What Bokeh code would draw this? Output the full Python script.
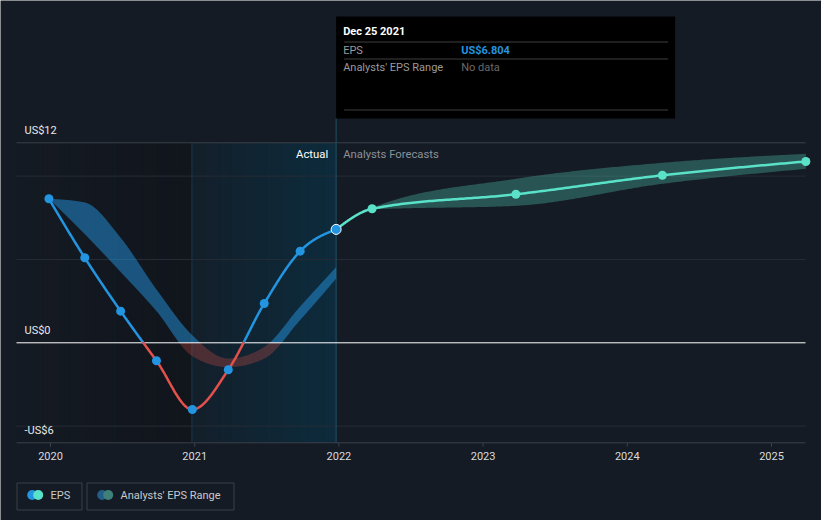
import numpy as np
from datetime import date
from bokeh.plotting import figure
from bokeh.models import Range1d
from bokeh.core.properties import value
from bokeh.embed import file_html
from bokeh.resources import INLINE

# ---------------- data ----------------
actual_dates = ["2019-12-28", "2020-03-28", "2020-06-27", "2020-09-26", "2020-12-26",
                "2021-03-27", "2021-06-26", "2021-09-25", "2021-12-25"]
actual_eps = [8.64, 5.10, 1.90, -1.08, -4.00, -1.62, 2.36, 5.50, 6.804]
past_range_high = [8.64, 8.42, 6.30, 3.20, 0.45, -0.94, -0.25, 2.18, 4.54]
past_range_low = [8.64, 6.52, 4.25, 1.90, -0.80, -1.46, -0.95, 1.37, 3.85]

forecast_dates = ["2021-12-25", "2022-03-26", "2023-03-25", "2024-03-30", "2025-03-29"]
forecast_eps = [6.804, 8.04, 8.91, 10.05, 10.88]
forecast_high = [6.804, 8.10, 9.84, 10.80, 11.34]
forecast_low = [6.804, 8.00, 8.22, 9.54, 10.44]

year_ticks = [2020, 2021, 2022, 2023, 2024, 2025]
y_label_values = [12, 0, -6]
y_label_texts = ["US$12", "US$0", "-US$6"]
y_grid_values = [10, 5, -5]

# ---------------- styling / layout ----------------
BG = "#151b24"
BLUE = "#2394df"
RED = "#e2514c"
TEAL = "#5ae2c9"
FONT = value("Roboto")
PXY = 144.2      # px per year
PXU = 16.667     # px per US$
W, H = 821, 520
X0 = 2020 - 50 / PXY
X1 = X0 + W / PXY
Y1 = 342.3 / PXU
Y0 = Y1 - H / PXU
PLOT_LEFT, PLOT_RIGHT = 16, 805


def px2x(px):
    return X0 + px / PXY


def px2y(py):
    return Y1 - py / PXU


def dyear(s):
    d = date.fromisoformat(s)
    a = date(d.year, 1, 1)
    b = date(d.year + 1, 1, 1)
    return d.year + (d - a).days / (b - a).days


def monotone(xs, ys, n=60):
    xs = np.asarray(xs, float)
    ys = np.asarray(ys, float)
    m = len(xs)
    h = np.diff(xs)
    s = np.diff(ys) / h
    t = np.zeros(m)
    if m == 2:
        t[:] = s[0]
    else:
        for i in range(1, m - 1):
            s0, s1 = s[i - 1], s[i]
            p_ = (s0 * h[i] + s1 * h[i - 1]) / (h[i - 1] + h[i])
            t[i] = (np.sign(s0) + np.sign(s1)) * min(abs(s0), abs(s1), 0.5 * abs(p_))
        t[0] = (3 * s[0] - t[1]) / 2
        t[-1] = (3 * s[-1] - t[-2]) / 2
    X, Y = [], []
    for i in range(m - 1):
        u = np.linspace(0, 1, n, endpoint=(i == m - 2))
        h00 = 2 * u**3 - 3 * u**2 + 1
        h10 = u**3 - 2 * u**2 + u
        h01 = -2 * u**3 + 3 * u**2
        h11 = u**3 - u**2
        X.append(xs[i] + u * h[i])
        Y.append(h00 * ys[i] + h10 * h[i] * t[i] + h01 * ys[i + 1] + h11 * h[i] * t[i + 1])
    return np.concatenate(X), np.concatenate(Y)


def split_sign(X, Y):
    xr, yr = [X[0]], [Y[0]]
    for i in range(1, len(X)):
        y0, y1 = Y[i - 1], Y[i]
        if (y0 < 0 < y1) or (y1 < 0 < y0):
            xr.append(X[i - 1] + (X[i] - X[i - 1]) * (-y0) / (y1 - y0))
            yr.append(0.0)
        xr.append(X[i])
        yr.append(Y[i])
    xr = np.array(xr)
    yr = np.array(yr)
    return xr, np.where(yr >= 0, yr, np.nan), np.where(yr <= 0, yr, np.nan)


def blend(c, a):
    bg = (0x15, 0x1b, 0x24)
    return "#%02x%02x%02x" % tuple(int(round(bg[k] * (1 - a) + c[k] * a)) for k in range(3))


ax = [dyear(d) for d in actual_dates]
fx = [dyear(d) for d in forecast_dates]
last_x = ax[-1]
hl_start = last_x - 1.0
y_min, y_max = min(y_label_values), max(y_label_values)
xl, xr = px2x(PLOT_LEFT), px2x(PLOT_RIGHT)

p = figure(width=W, height=H, x_range=Range1d(X0, X1), y_range=Range1d(Y0, Y1),
           x_axis_location=None, y_axis_location=None, toolbar_location=None,
           output_backend="svg", min_border=0,
           background_fill_color=BG, border_fill_color=BG, outline_line_color=None)
p.grid.visible = False

# backgrounds: darker past zone and highlighted last-year zone
n = 40
e = np.linspace(xl, hl_start, n + 1)
p.quad(left=e[:-1], right=e[1:] + 0.004, bottom=y_min, top=y_max, line_color=None,
       fill_color=[blend((0, 0, 0), a) for a in np.linspace(0.03, 0.2, n)])
e = np.linspace(hl_start, last_x, n + 1)
p.quad(left=e[:-1], right=np.minimum(e[1:] + 0.004, last_x), bottom=y_min, top=y_max, line_color=None,
       fill_color=[blend((0, 70, 100), a) for a in np.linspace(0.1, 0.38, n)])

# grid lines
p.segment(x0=xl, x1=xr, y0=y_grid_values, y1=y_grid_values, line_color="#262c36", line_width=1)
p.segment(x0=xl, x1=xr, y0=[y_max, y_min], y1=[y_max, y_min], line_color="#3b4049", line_width=1)
p.segment(x0=year_ticks, x1=year_ticks, y0=y_min, y1=y_min - 4 / PXU, line_color="#3b4049", line_width=1)

# vertical lines
p.segment(x0=hl_start, x1=hl_start, y0=y_min, y1=y_max, line_color="#17394a", line_width=1)
p.segment(x0=last_x, x1=last_x, y0=y_min, y1=px2y(118), line_color="#1e5163", line_width=1)

# past analyst range band (blue above zero, red below)
bx, bh = monotone(ax, past_range_high)
_, bl = monotone(ax, past_range_low)
p.varea(x=bx, y1=np.maximum(bl, 0), y2=np.maximum(bh, 0), fill_color=BLUE, fill_alpha=0.5)
p.varea(x=bx, y1=np.minimum(bl, 0), y2=np.minimum(bh, 0), fill_color=RED, fill_alpha=0.28)

# forecast range band
fbx, fbh = monotone(fx, forecast_high)
_, fbl = monotone(fx, forecast_low)
p.varea(x=fbx, y1=fbl, y2=fbh, fill_color=TEAL, fill_alpha=0.29)

# zero line
p.segment(x0=xl, x1=xr, y0=0, y1=0, line_color="#ffffff", line_width=1)

# lines
lx, ly = monotone(ax, actual_eps)
sx, pos, neg = split_sign(lx, ly)
p.line(sx, pos, line_color=BLUE, line_width=2.5, line_join="round", line_cap="round")
p.line(sx, neg, line_color=RED, line_width=2.5, line_join="round", line_cap="round")
flx, fly = monotone(fx, forecast_eps)
p.line(flx, fly, line_color=TEAL, line_width=2.5, line_join="round", line_cap="round")

# markers
p.scatter(ax[:-1], actual_eps[:-1], size=9, fill_color=BLUE, line_color=None)
p.scatter(fx[1:], forecast_eps[1:], size=9, fill_color=TEAL, line_color=None)
p.scatter([ax[-1]], [actual_eps[-1]], size=10, fill_color=BLUE, line_color="white", line_width=1)

# y labels
p.text(x=[px2x(24)] * len(y_label_values), y=y_label_values, text=y_label_texts, y_offset=-12,
       text_align="left", text_baseline="middle", text_font=FONT, text_font_size="11px",
       text_color="#e8e9eb")
# x tick labels
p.text(x=year_ticks, y=[y_min] * len(year_ticks), text=[str(t) for t in year_ticks], y_offset=13,
       text_align="center", text_baseline="middle", text_font=FONT, text_font_size="11px",
       text_color="#d9dbde")

# Actual / Analysts Forecasts
p.text(x=[last_x], y=[y_max], text=["Actual"], x_offset=-8, y_offset=12, text_align="right",
       text_baseline="middle", text_font=FONT, text_font_size="11.3px", text_color="#ffffff")
p.text(x=[last_x], y=[y_max], text=["Analysts Forecasts"], x_offset=7, y_offset=12, text_align="left",
       text_baseline="middle", text_font=FONT, text_font_size="11.3px", text_color="#8b9099")

# tooltip box
lp = (last_x - X0) * PXY
p.quad(left=last_x, right=px2x(lp + 339), top=px2y(16), bottom=px2y(118), fill_color="#000000", line_color=None)
p.segment(x0=px2x(lp + 8), x1=px2x(lp + 332), y0=[px2y(41.5), px2y(58.5), px2y(109.5)],
          y1=[px2y(41.5), px2y(58.5), px2y(109.5)], line_color="#3e3e3e", line_width=1)
last_date = date.fromisoformat(actual_dates[-1])
p.text(x=[px2x(lp + 7)], y=[px2y(31)], text=[last_date.strftime("%b %d %Y")], text_baseline="middle",
       text_font=FONT, text_font_size="11px", text_font_style="bold", text_color="#ffffff")
p.text(x=[px2x(lp + 7)] * 2, y=[px2y(49.5), px2y(66.5)], text=["EPS", "Analysts' EPS Range"],
       text_baseline="middle", text_font=FONT, text_font_size="11px", text_color="#9a9a9a")
p.text(x=[px2x(lp + 125)], y=[px2y(49.5)], text=[f"US${actual_eps[-1]:.3f}"], text_baseline="middle",
       text_font=FONT, text_font_size="11px", text_font_style="bold", text_color=BLUE)
p.text(x=[px2x(lp + 125)], y=[px2y(66.5)], text=["No data"], text_baseline="middle",
       text_font=FONT, text_font_size="11px", text_color="#6a6a6a")

# legend
p.quad(left=[px2x(16.5), px2x(86.5)], right=[px2x(81.5), px2x(233.5)], top=px2y(482.5), bottom=px2y(509.5),
       fill_color=None, line_color="#3b4049", line_width=1)
p.scatter([px2x(31.7), px2x(37.7)], [px2y(494.5)] * 2, size=10, fill_color=[BLUE, TEAL], line_color=None)
p.scatter([px2x(101.7), px2x(107.7)], [px2y(494.5)] * 2, size=10, fill_color=["#235d88", "#3f8079"],
          line_color=None)
p.text(x=[px2x(50), px2x(120)], y=[px2y(495)] * 2, text=["EPS", "Analysts' EPS Range"],
       text_baseline="middle", text_font=FONT, text_font_size="11px", text_color="#c8cacd")

open("out.html", "w").write(file_html(p, INLINE))
